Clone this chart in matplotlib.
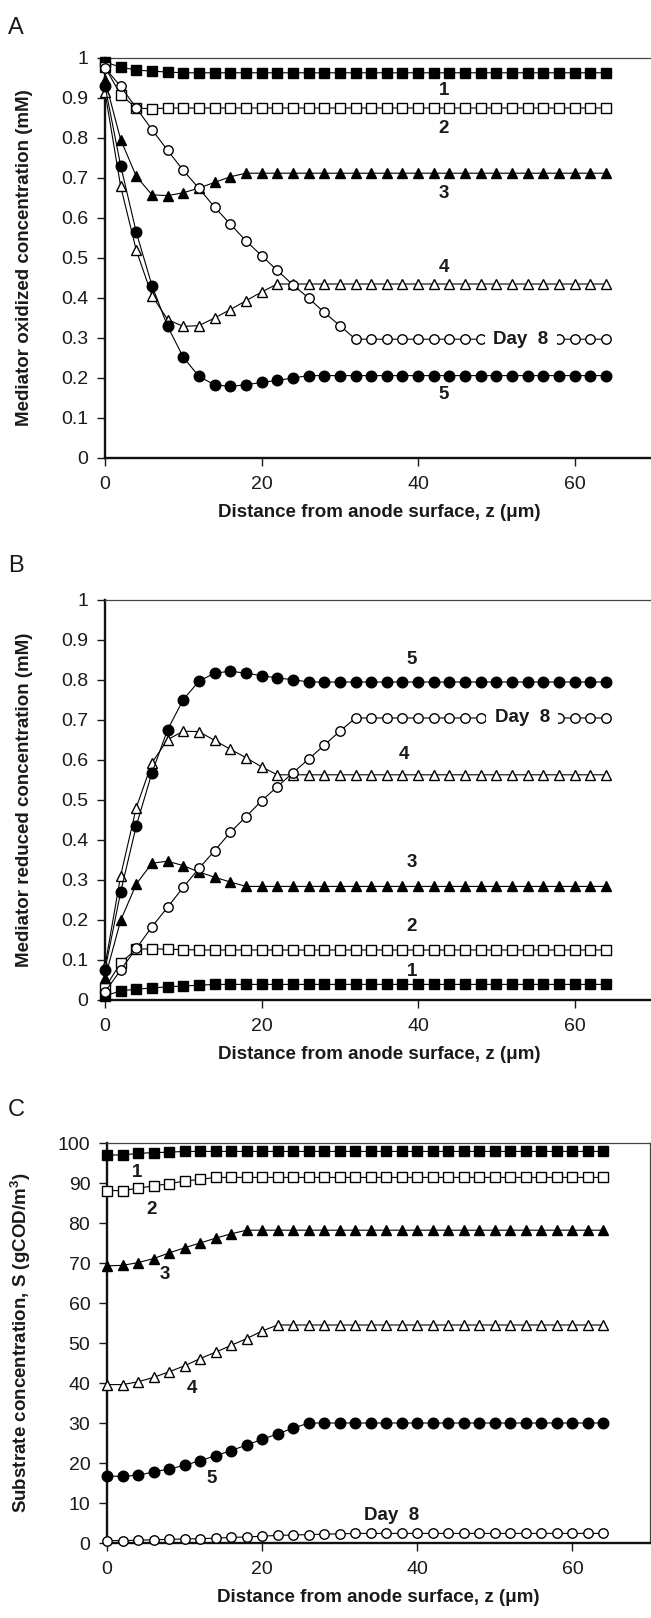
import numpy as np
import matplotlib
matplotlib.use("Agg")
import matplotlib.pyplot as plt

plt.rcParams['font.family'] = ['Liberation Sans', 'DejaVu Sans']
plt.rcParams['mathtext.fontset'] = 'custom'
plt.rcParams['mathtext.rm'] = 'Liberation Sans'
plt.rcParams['mathtext.bf'] = 'Liberation Sans:bold'

# distance from anode surface (um), every 2 um
z = np.arange(0, 66, 2)

# ---------- panel A: oxidized mediator (mM) ----------
a1 = [0.99, 0.977, 0.97, 0.967, 0.965] + [0.963] * 28
a2 = [0.977, 0.908, 0.875, 0.873] + [0.875] * 29
a3 = [0.945, 0.796, 0.704, 0.658, 0.656, 0.663, 0.675, 0.689, 0.703] + [0.712] * 24
a4 = [0.915, 0.679, 0.519, 0.406, 0.346, 0.329, 0.331, 0.350, 0.371, 0.393, 0.415,
      0.435] + [0.435] * 21
a5 = [0.93, 0.731, 0.564, 0.431, 0.329, 0.252, 0.204, 0.183, 0.179, 0.183, 0.189,
      0.194, 0.200] + [0.206] * 20
a8 = [0.975, 0.929, 0.875, 0.821, 0.769, 0.719, 0.674, 0.627, 0.585, 0.543, 0.506,
      0.469, 0.433, 0.400, 0.364, 0.331] + [0.297] * 17

# ---------- panel B: reduced mediator (mM) ----------
b1 = [0.01, 0.023, 0.027, 0.030, 0.033, 0.035, 0.037] + [0.039] * 26
b2 = [0.03, 0.093, 0.127, 0.128, 0.127, 0.126] + [0.125] * 27
b3 = [0.055, 0.199, 0.290, 0.342, 0.347, 0.336, 0.320, 0.307, 0.295] + [0.284] * 24
b4 = [0.085, 0.311, 0.481, 0.593, 0.651, 0.672, 0.671, 0.649, 0.627, 0.606, 0.583,
      0.563] + [0.563] * 21
b5 = [0.075, 0.270, 0.436, 0.568, 0.676, 0.751, 0.797, 0.817, 0.822, 0.817, 0.811,
      0.805, 0.801] + [0.795] * 20
b8 = [0.02, 0.075, 0.129, 0.183, 0.232, 0.282, 0.329, 0.373, 0.419, 0.458, 0.498,
      0.533, 0.568, 0.602, 0.637, 0.672] + [0.705] * 17

# ---------- panel C: substrate (gCOD/m3) ----------
c1 = [97.0, 97.0, 97.4, 97.6, 97.7] + [97.9] * 28
c2 = [88.1, 88.1, 88.7, 89.3, 89.8, 90.5, 90.9] + [91.4] * 26
c3 = [69.3, 69.4, 70.1, 71.1, 72.5, 73.8, 75.0, 76.2, 77.3] + [78.2] * 24
c4 = [39.6, 39.6, 40.3, 41.4, 42.8, 44.3, 46.1, 47.7, 49.4, 51.1, 53.0] + [54.5] * 22
c5 = [16.7, 16.7, 16.9, 17.8, 18.5, 19.4, 20.6, 21.8, 23.1, 24.5, 25.9, 27.3,
      28.7] + [30.0] * 20
c8 = [0.6, 0.6, 0.7, 0.8, 0.9, 1.0, 1.1, 1.2, 1.4, 1.5, 1.7, 1.9, 2.0, 2.1, 2.2,
      2.3] + [2.4] * 17

# marker style per curve: 1..5 then Day 8
styles = [('s', 'k', 7.2), ('s', 'w', 6.8), ('^', 'k', 7.6), ('^', 'w', 7.6),
          ('o', 'k', 7.6), ('o', 'w', 6.8)]

XLABEL = 'Distance from anode surface, z (\u03bcm)'
TXT = '#1a1a1a'


def setup(ax, ylim, yticks, yticklabels, ylabel, left_px, width_px, right_spine=False):
    ax.set_xlim(0, 70)
    ax.set_ylim(*ylim)
    ax.set_xticks([0, 20, 40, 60])
    ax.set_yticks(yticks)
    ax.set_yticklabels(yticklabels)
    ax.tick_params(direction='out', length=6, width=1, labelsize=14, colors=TXT)
    ax.tick_params(axis='x', pad=7)
    ax.tick_params(axis='y', pad=6)
    for s in ['left', 'bottom']:
        ax.spines[s].set_linewidth(1.7)
        ax.spines[s].set_color('#111111')
    for s in ['top', 'right']:
        ax.spines[s].set_linewidth(0.9)
        ax.spines[s].set_color('#444444')
    ax.spines['right'].set_visible(right_spine)
    ax.set_xlabel(XLABEL, fontsize=13.5, fontweight='bold', labelpad=8, color=TXT)
    ax.set_ylabel(ylabel, fontsize=13.5, fontweight='bold', color=TXT)
    ax.yaxis.set_label_coords((33 - left_px) / width_px, 0.5)


def draw(ax, series):
    for ys, (m, fc, ms) in zip(series, styles):
        ax.plot(z, ys, color='k', lw=0.8, marker=m, markersize=ms, markerfacecolor=fc,
                markeredgecolor='k', markeredgewidth=1.0, clip_on=False, zorder=3)


def lab(ax, x, y, s):
    ax.text(x, y, s, fontsize=13.5, fontweight='bold', ha='center', va='center',
            zorder=5, color=TXT)


def daylab(ax, x, y):
    ax.text(x, y, 'Day  8', fontsize=13.5, fontweight='bold', ha='center', va='center',
            zorder=6, color=TXT, bbox=dict(fc='white', ec='none', pad=6))


fig = plt.figure(figsize=(6.51, 16.18), dpi=100)
H = 400 / 1618
TICKS01 = ['0', '0.1', '0.2', '0.3', '0.4', '0.5', '0.6', '0.7', '0.8', '0.9', '1']

# A
axA = fig.add_axes([105 / 651, 1 - 458 / 1618, 548 / 651, H])
draw(axA, [a1, a2, a3, a4, a5, a8])
setup(axA, (0, 1), np.arange(0, 1.01, 0.1), TICKS01,
      'Mediator oxidized concentration (mM)', 105, 548)
lab(axA, 43.3, 0.918, '1')
lab(axA, 43.3, 0.824, '2')
lab(axA, 43.3, 0.660, '3')
lab(axA, 43.3, 0.475, '4')
lab(axA, 43.3, 0.159, '5')
daylab(axA, 53.1, 0.297)

# B
axB = fig.add_axes([105 / 651, 1 - 1000 / 1618, 548 / 651, H])
draw(axB, [b1, b2, b3, b4, b5, b8])
setup(axB, (0, 1), np.arange(0, 1.01, 0.1), TICKS01,
      'Mediator reduced concentration (mM)', 105, 548)
lab(axB, 39.2, 0.070, '1')
lab(axB, 39.2, 0.184, '2')
lab(axB, 39.2, 0.344, '3')
lab(axB, 38.2, 0.614, '4')
lab(axB, 39.2, 0.850, '5')
daylab(axB, 53.3, 0.705)

# C
axC = fig.add_axes([107 / 651, 1 - 1543 / 1618, 543 / 651, H])
draw(axC, [c1, c2, c3, c4, c5, c8])
setup(axC, (0, 100), np.arange(0, 101, 10), [str(v) for v in range(0, 101, 10)],
      'Substrate concentration, S (gCOD/m$\\mathbf{^3}$)', 107, 543, right_spine=True)
lab(axC, 3.9, 92.6, '1')
lab(axC, 5.7, 83.3, '2')
lab(axC, 7.5, 67.1, '3')
lab(axC, 10.9, 38.7, '4')
lab(axC, 13.5, 16.2, '5')
lab(axC, 36.7, 6.9, 'Day  8')

for t, y in [('A', 28), ('B', 566), ('C', 1110)]:
    fig.text(8 / 651, 1 - y / 1618, t, fontsize=17, ha='left', va='center', color=TXT)

fig.savefig('out.png', dpi=100)
